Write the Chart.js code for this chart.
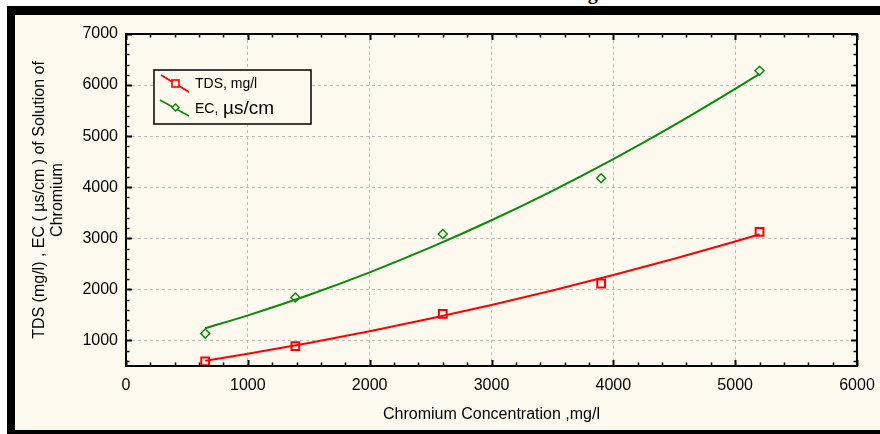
<!DOCTYPE html>
<html>
<head>
<meta charset="utf-8">
<script src="https://cdn.jsdelivr.net/npm/chart.js@4/dist/chart.umd.min.js"></script>
<style>
  body { margin: 0; background: #fff; }
  #page { position: relative; width: 880px; height: 434px; overflow: hidden; background: #fff; }
  #cap { position: absolute; left: 0; top: -19px; width: 880px; text-align: center;
         font: bold 20px "Liberation Serif", serif; color: #000; white-space: nowrap; }
  #frame { position: absolute; left: 7px; top: 6px; right: 0; bottom: 0; background: #000; }
  #wrap { position: absolute; left: 15px; top: 15px; width: 865px; height: 415px; background: #fdf9ee; }
</style>
</head>
<body>
<div id="page">
  <div id="cap">Table 4: TDS and EC of Solution of Chromium according to its Concentration</div>
  <div id="frame"></div>
  <div id="wrap"><canvas id="chart" width="865" height="415"></canvas></div>
</div>
<script>
// measured points
var concentration = [650, 1390, 2600, 3900, 5200];
var tds = [590, 890, 1520, 2115, 3125];
var ec = [1135, 1840, 3085, 4175, 6280];

// fitted curves
var fitX = [650, 1000, 1500, 2000, 2500, 3000, 3500, 4000, 4500, 5000, 5200];
var tdsFit = [601, 738, 951, 1180, 1428, 1694, 1980, 2280, 2600, 2937, 3078];
var ecFit = [1238, 1491, 1890, 2334, 2821, 3353, 3930, 4550, 5215, 5924, 6220];

var xTicks = [0, 1000, 2000, 3000, 4000, 5000, 6000];
var yTicks = [1000, 2000, 3000, 4000, 5000, 6000, 7000];

var RED = '#ff0000';
var GREEN = '#0a8a0a';
var FONT = '"Liberation Sans", Arial, sans-serif';

function pts(xs, ys) {
    return xs.map(function(x, i) { return { x: x, y: ys[i] }; });
}

// frame, inside ticks on all four sides, and the boxed legend
var framePlugin = {
    id: 'frame',
    afterDraw: function(chart) {
        var ctx = chart.ctx;
        var a = chart.chartArea;
        var x = chart.scales.x, y = chart.scales.y;
        ctx.save();
        ctx.strokeStyle = '#000';
        for (var v = 0; v <= 6000; v += 200) {
            var px = Math.round(x.getPixelForValue(v)) + 0.5;
            var major = v % 1000 === 0;
            var len = major ? 6 : 3.5;
            ctx.lineWidth = major ? 2 : 1.5;
            ctx.beginPath();
            ctx.moveTo(px, a.bottom); ctx.lineTo(px, a.bottom - len);
            ctx.moveTo(px, a.top); ctx.lineTo(px, a.top + len);
            ctx.stroke();
        }
        for (var w = 600; w <= 7000; w += 200) {
            var py = Math.round(y.getPixelForValue(w)) + 0.5;
            var maj = w % 1000 === 0;
            var l2 = maj ? 6 : 3.5;
            ctx.lineWidth = maj ? 2 : 1.5;
            ctx.beginPath();
            ctx.moveTo(a.left, py); ctx.lineTo(a.left + l2, py);
            ctx.moveTo(a.right, py); ctx.lineTo(a.right - l2, py);
            ctx.stroke();
        }
        ctx.lineWidth = 2;
        ctx.strokeRect(a.left, a.top, a.right - a.left, a.bottom - a.top);

        // legend box
        var bx = 139, by = 55, bw = 157, bh = 54;
        ctx.fillStyle = '#fdf9ee';
        ctx.fillRect(bx, by, bw, bh);
        ctx.lineWidth = 1.5;
        ctx.strokeRect(bx, by, bw, bh);

        ctx.lineWidth = 1.8;
        ctx.strokeStyle = RED;
        ctx.beginPath(); ctx.moveTo(146, 60); ctx.lineTo(174, 77); ctx.stroke();
        ctx.fillStyle = '#fdf9ee';
        ctx.fillRect(157, 65, 7, 7);
        ctx.lineWidth = 1.6;
        ctx.strokeRect(157, 65, 7, 7);

        ctx.lineWidth = 1.5;
        ctx.strokeStyle = GREEN;
        ctx.beginPath(); ctx.moveTo(145, 85); ctx.lineTo(174, 101); ctx.stroke();
        ctx.fillStyle = '#fdf9ee';
        ctx.beginPath();
        ctx.moveTo(160.5, 89); ctx.lineTo(164, 92.5); ctx.lineTo(160.5, 96); ctx.lineTo(157, 92.5);
        ctx.closePath(); ctx.fill(); ctx.stroke();

        ctx.fillStyle = '#000';
        ctx.textBaseline = 'middle';
        ctx.textAlign = 'left';
        ctx.font = '14px ' + FONT;
        ctx.fillText('TDS, mg/l', 180, 69);
        ctx.fillText('EC,', 180, 94);
        ctx.font = '19px ' + FONT;
        ctx.fillText('\u00b5s/cm', 208, 94);
        ctx.restore();
    }
};

var ctx = document.getElementById('chart').getContext('2d');
var chart = new Chart(ctx, {
    type: 'scatter',
    data: {
        datasets: [
            {
                label: 'TDS fit',
                data: pts(fitX, tdsFit),
                showLine: true,
                borderColor: RED,
                borderWidth: 2,
                pointRadius: 0,
                cubicInterpolationMode: 'monotone'
            },
            {
                label: 'EC fit',
                data: pts(fitX, ecFit),
                showLine: true,
                borderColor: GREEN,
                borderWidth: 2,
                pointRadius: 0,
                cubicInterpolationMode: 'monotone'
            },
            {
                label: 'TDS, mg/l',
                data: pts(concentration, tds),
                showLine: false,
                pointStyle: 'rect',
                pointRadius: 5.5,
                pointBorderWidth: 2,
                pointBorderColor: RED,
                pointBackgroundColor: 'rgba(255,255,255,0)',
                clip: false
            },
            {
                label: 'EC, \u00b5s/cm',
                data: pts(concentration, ec),
                showLine: false,
                pointStyle: 'rectRot',
                pointRadius: 4.5,
                pointBorderWidth: 1.5,
                pointBorderColor: GREEN,
                pointBackgroundColor: 'rgba(255,255,255,0)',
                clip: false
            }
        ]
    },
    options: {
        responsive: false,
        animation: false,
        layout: { padding: { top: 19, right: 23, left: 0, bottom: 0 } },
        plugins: {
            legend: { display: false },
            tooltip: { enabled: false }
        },
        scales: {
            x: {
                type: 'linear',
                min: 0,
                max: 6000,
                afterFit: function(s) { s.height = 64; s.paddingLeft = 0; s.paddingRight = 0; },
                afterBuildTicks: function(s) {
                    s.ticks = xTicks.map(function(v) { return { value: v }; });
                },
                ticks: {
                    color: '#000',
                    padding: 10,
                    maxRotation: 0,
                    callback: function(v) { return String(v); },
                    font: { family: FONT, size: 16 }
                },
                grid: { color: '#bdbdbd', lineWidth: 1, drawTicks: false },
                border: { display: false, dash: [3, 3] },
                title: {
                    display: true,
                    text: 'Chromium Concentration ,mg/l',
                    color: '#000',
                    padding: { top: 6, bottom: 6 },
                    font: { family: FONT, size: 16 }
                }
            },
            y: {
                type: 'linear',
                min: 500,
                max: 7000,
                afterFit: function(s) { s.width = 111; s.paddingTop = 0; s.paddingBottom = 0; },
                afterBuildTicks: function(s) {
                    s.ticks = yTicks.map(function(v) { return { value: v }; });
                },
                ticks: {
                    color: '#000',
                    padding: 8,
                    callback: function(v) { return String(v); },
                    font: { family: FONT, size: 16 }
                },
                grid: { color: '#bdbdbd', lineWidth: 1, drawTicks: false },
                border: { display: false, dash: [3, 3] },
                title: {
                    display: true,
                    text: ['TDS (mg/l) , EC ( \u00b5s/cm ) of Solution of', 'Chromium'],
                    color: '#000',
                    padding: { top: 16, bottom: 0 },
                    font: { family: FONT, size: 16, lineHeight: 1.125 }
                }
            }
        }
    },
    plugins: [framePlugin]
});
</script>
</body>
</html>
